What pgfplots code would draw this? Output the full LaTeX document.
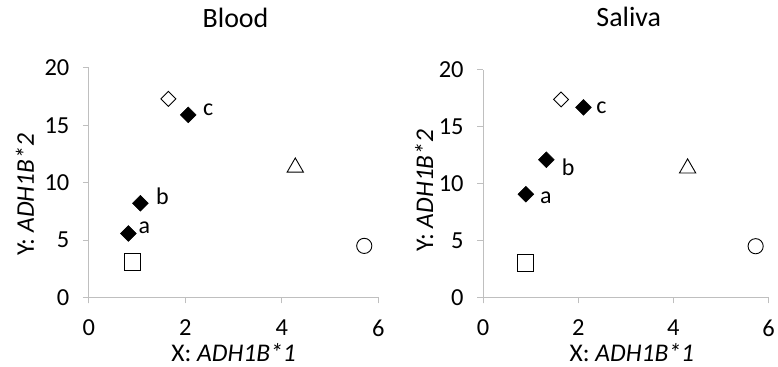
\documentclass[border=0pt]{standalone}
\usepackage{pgfplots}
\pgfplotsset{compat=1.18}
\usepackage{fontspec}
\setmainfont{Carlito}
\definecolor{axgray}{HTML}{BFBFBF}
\tikzset{lab/.style={font=\fontsize{24}{28}\selectfont, anchor=center}}
\pgfplotsset{
  myax/.style={
    scale only axis,
    anchor=south west,
    xmin=0, xmax=6, ymin=0, ymax=20,
    xtick={0,2,4,6}, ytick={0,5,10,15,20},
    axis x line*=bottom, axis y line*=left,
    axis line style={axgray, line width=0.8pt, -},
    x axis line style={shorten <=-6pt},
    y axis line style={shorten <=-6pt},
    tick style={axgray, line width=0.8pt},
    tick align=outside,
    major tick length=6pt,
    /pgf/number format/assume math mode=true,
    tick label style={font=\fontsize{24.5}{28}\selectfont, text=black},
    xticklabel style={yshift=-13pt},
    yticklabel style={xshift=-10pt},
    label style={font=\fontsize{25.5}{30}\selectfont},
    title style={font=\fontsize{28}{33}\selectfont},
    clip=false,
  },
  fd/.style={only marks, mark=square*, mark size=5.6pt, mark options={rotate=45, fill=black, draw=black, line width=0.5pt}},
  od/.style={only marks, mark=square, mark size=5.3pt, mark options={rotate=45, draw=black, fill=white, line width=0.9pt}},
  sq/.style={only marks, mark=square, mark size=8.2pt, mark options={draw=black, fill=white, line width=0.9pt}},
  tr/.style={only marks, mark=triangle, mark size=9.4pt, mark options={draw=black, fill=white, line width=0.9pt}},
  ci/.style={only marks, mark=o, mark size=7.6pt, mark options={draw=black, fill=white, line width=0.9pt}},
}
\begin{document}
\begin{tikzpicture}[x=1pt,y=1pt]
\begin{axis}[myax, at={(89pt,69pt)}, width=290pt, height=230pt,
  title={Blood}, title style={at={(axis description cs:0.5,1)}, anchor=center, xshift=2pt, yshift=44pt},
  xlabel={X: \textit{ADH1B*1}}, xlabel style={at={(axis description cs:0.5,0)}, anchor=center, yshift=-55pt},
  ylabel={Y: \textit{ADH1B*2}}, ylabel style={at={(axis description cs:0,0.447)}, anchor=center, yshift=64pt}]
\addplot[fd] coordinates {(0.82,5.57) (1.07,8.2) (2.06,15.9)};
\addplot[od] coordinates {(1.65,17.3)};
\addplot[sq] coordinates {(0.91,3.1)};
\addplot[tr] coordinates {(4.28,11.33)};
\addplot[ci] coordinates {(5.71,4.49)};
\node[lab] at (axis cs:0.82,5.57) [xshift=16pt, yshift=6pt] {a};
\node[lab] at (axis cs:1.07,8.2) [xshift=22pt, yshift=7pt] {b};
\node[lab] at (axis cs:2.06,15.9) [xshift=20pt, yshift=5pt] {c};
\end{axis}
\begin{axis}[myax, at={(484pt,69pt)}, width=286pt, height=228pt,
  title={Saliva}, title style={at={(axis description cs:0.5,1)}, anchor=center, xshift=3pt, yshift=47pt},
  xlabel={X: \textit{ADH1B*1}}, xlabel style={at={(axis description cs:0.5,0)}, anchor=center, xshift=6pt, yshift=-55pt},
  ylabel={Y: \textit{ADH1B*2}}, ylabel style={at={(axis description cs:0,0.47)}, anchor=center, yshift=59pt}]
\addplot[fd] coordinates {(0.90,9.07) (1.33,12.1) (2.11,16.7)};
\addplot[od] coordinates {(1.64,17.4)};
\addplot[sq] coordinates {(0.89,3.04)};
\addplot[tr] coordinates {(4.30,11.35)};
\addplot[ci] coordinates {(5.73,4.5)};
\node[lab] at (axis cs:0.90,9.07) [xshift=20pt, yshift=-4pt] {a};
\node[lab] at (axis cs:1.33,12.1) [xshift=22pt, yshift=-8pt] {b};
\node[lab] at (axis cs:2.11,16.7) [xshift=18pt, yshift=0pt] {c};
\end{axis}
\path (0,0) rectangle (778,367);
\end{tikzpicture}
\end{document}
